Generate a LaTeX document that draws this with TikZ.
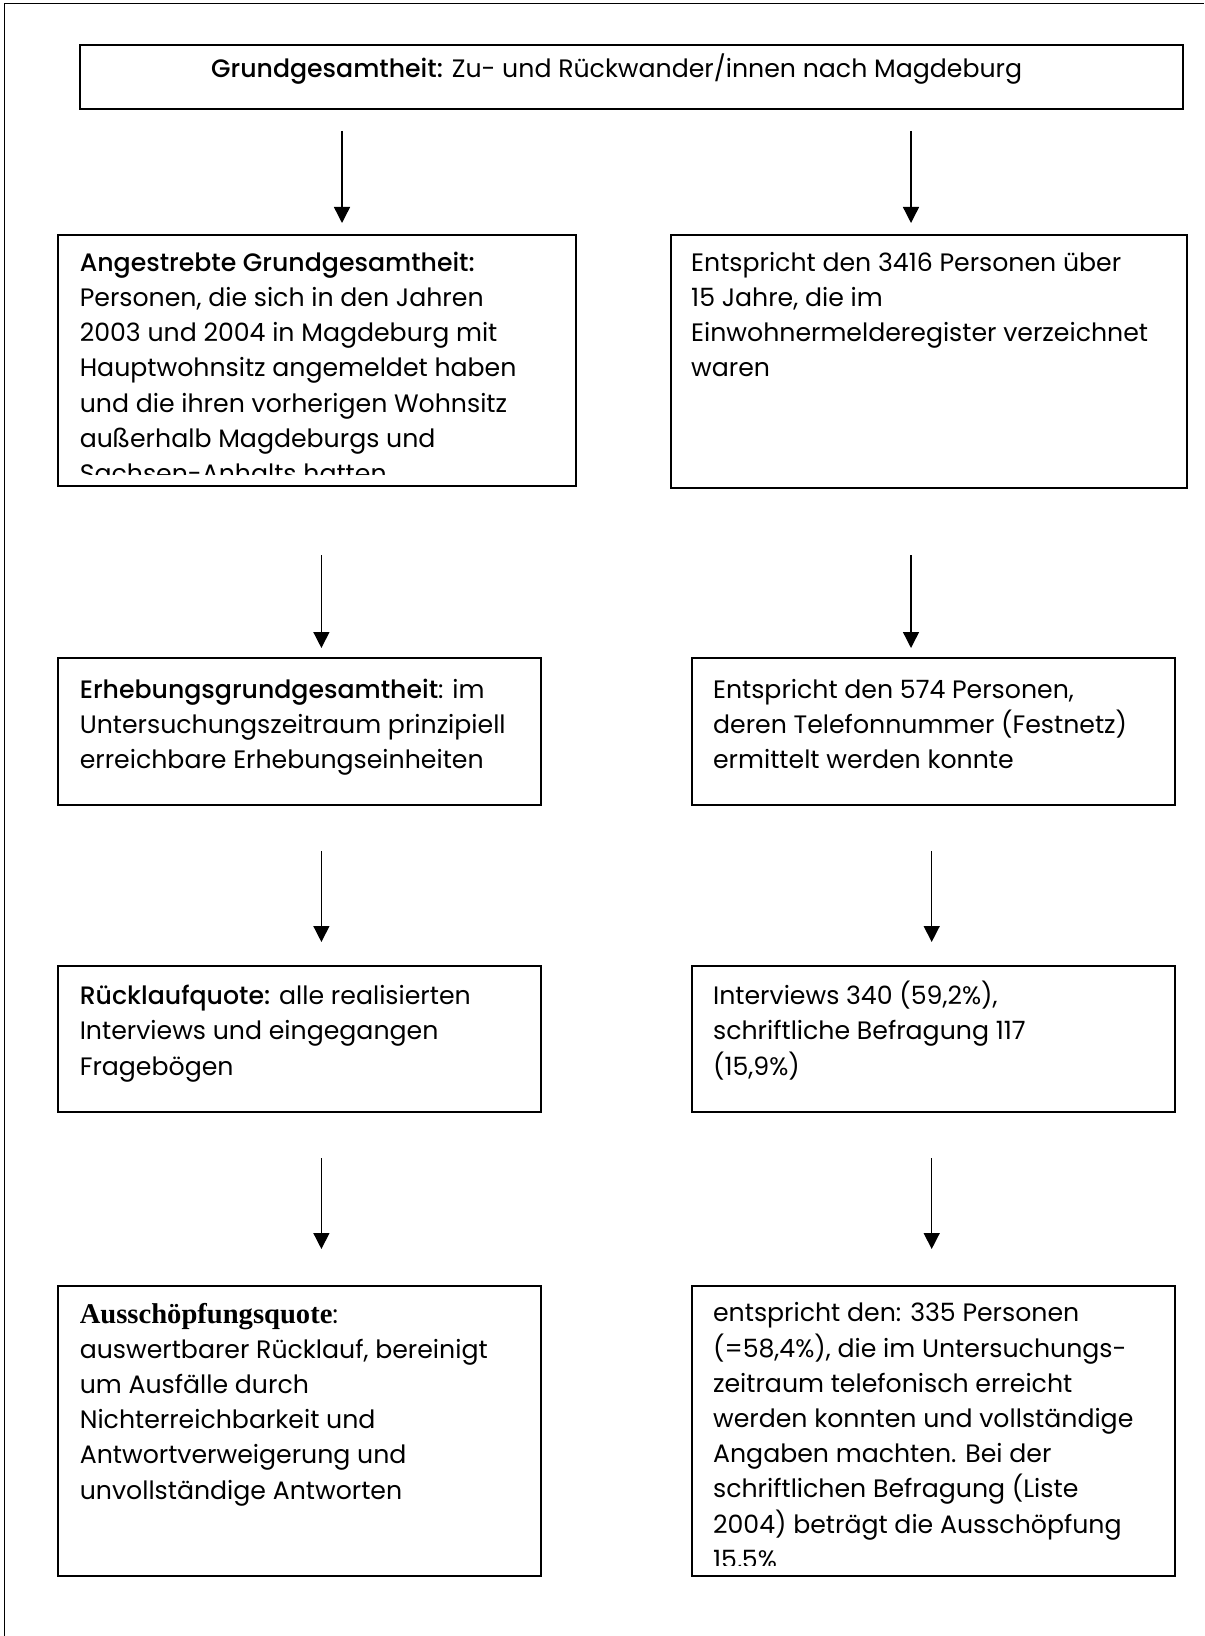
\documentclass[tikz,border=0pt]{standalone}
\usepackage{fontspec}
\setmainfont{Poppins}[BoldFont={Poppins Medium}]
\newfontfamily\timesfont{Liberation Serif}
\usetikzlibrary{arrows.meta}

\begin{document}
\begin{tikzpicture}[x=0.5pt, y=-0.5pt, >={Triangle[length=8pt,width=8pt]},
    box/.style={draw, line width=1pt, anchor=north west, inner sep=0pt},
    txt/.style={anchor=base west, inner sep=0pt, font=\fontsize{12.6}{17.6}\selectfont},
    flow/.style={->, line width=0.7pt}]
    \useasboundingbox (0,0) rectangle (1204,1636);
    \draw[line width=0.8pt] (4.5,1636) -- (4.5,3.5) -- (1204,3.5);

    % columns of the arrows
    \coordinate (colA) at (342,0);
    \coordinate (colB) at (911,0);
    \coordinate (colL) at (321.4,0);
    \coordinate (colR) at (931.7,0);

    \node[box, minimum width=551.35pt, minimum height=32.35pt] (gesamt) at (79.3,43.8) {};
    \node[txt, anchor=base] (gesamttext) at ([xshift=-7.5pt]gesamt.center) {\textbf{Grundgesamtheit:} Zu- und Rückwander/innen nach Magdeburg};

    \node[box, minimum width=258.75pt, minimum height=125.75pt] (angestrebt) at (57.4,233.7) {};
    \begin{scope}
        \clip (angestrebt.north west) rectangle ([yshift=6.5pt]angestrebt.south east);
        \node[txt] (angestrebttext) at ([shift={(22,37.6)}]angestrebt.north west) {\parbox[t]{260pt}{\textbf{Angestrebte Grundgesamtheit:}\\ Personen, die sich in den Jahren\\ 2003 und 2004 in Magdeburg mit\\ Hauptwohnsitz angemeldet haben\\ und die ihren vorherigen Wohnsitz\\ außerhalb Magdeburgs und\\ Sachsen-Anhalts hatten}};
    \end{scope}

    \node[box, minimum width=258.25pt, minimum height=126.75pt] (personen) at (669.8,233.7) {};
    \node[txt] (personentext) at ([shift={(21,37.6)}]personen.north west) {\parbox[t]{260pt}{Entspricht den 3416 Personen über\\ 15 Jahre, die im\\ Einwohnermelderegister verzeichnet\\ waren}};

    \node[box, minimum width=241.5pt, minimum height=73.5pt] (erhebung) at (57.4,657.3) {};
    \node[txt] (erhebungtext) at ([shift={(22,40.7)}]erhebung.north west) {\parbox[t]{240pt}{\textbf{Erhebungsgrundgesamtheit}: im\\ Untersuchungszeitraum prinzipiell\\ erreichbare Erhebungseinheiten}};

    \node[box, minimum width=241.5pt, minimum height=73.5pt] (telefon) at (690.7,657.3) {};
    \node[txt] (telefontext) at ([shift={(22,40.7)}]telefon.north west) {\parbox[t]{240pt}{Entspricht den 574 Personen,\\ deren Telefonnummer (Festnetz)\\ ermittelt werden konnte}};

    \node[box, minimum width=241.5pt, minimum height=73pt] (ruecklauf) at (57.4,965) {};
    \node[txt] (ruecklauftext) at ([shift={(22,39.7)}]ruecklauf.north west) {\parbox[t]{240pt}{\textbf{Rücklaufquote:} alle realisierten\\ Interviews und eingegangen\\ Fragebögen}};

    \node[box, minimum width=241.5pt, minimum height=73pt] (interviews) at (690.7,965) {};
    \node[txt] (interviewstext) at ([shift={(22,39.7)}]interviews.north west) {\parbox[t]{240pt}{Interviews 340 (59,2\%),\\ schriftliche Befragung 117\\ (15,9\%)}};

    \node[box, minimum width=241.5pt, minimum height=145pt] (ausschoepf) at (57.4,1285.4) {};
    \node[txt] (ausschoepftext) at ([shift={(22,37.6)}]ausschoepf.north west) {\parbox[t]{240pt}{{\timesfont\bfseries\fontsize{14.3}{17.6}\selectfont Ausschöpfungsquote}:\\ auswertbarer Rücklauf, bereinigt\\ um Ausfälle durch\\ Nichterreichbarkeit und\\ Antwortverweigerung und\\ unvollständige Antworten}};

    \node[box, minimum width=241.5pt, minimum height=145pt] (erreicht) at (690.7,1285.4) {};
    \begin{scope}
        \clip (erreicht.north west) rectangle ([yshift=6pt]erreicht.south east);
        \node[txt] (erreichttext) at ([shift={(22,36.5)}]erreicht.north west) {\parbox[t]{240pt}{entspricht den: 335 Personen\\ (=58,4\%), die im Untersuchungs-\\ zeitraum telefonisch erreicht\\ werden konnten und vollständige\\ Angaben machten. Bei der\\ schriftlichen Befragung (Liste\\ 2004) beträgt die Ausschöpfung\\ 15,5\%}};
    \end{scope}

    % arrows
    \draw[flow, shorten <=10.25pt, shorten >=5.35pt] (gesamt.south -| colA) -- (angestrebt.north -| colA);
    \draw[flow, shorten <=10.25pt, shorten >=5.35pt] (gesamt.south -| colB) -- (personen.north -| colB);
    \draw[flow, shorten <=33.9pt, shorten >=4.65pt] (angestrebt.south -| colL) -- (erhebung.north -| colL);
    \draw[flow, shorten <=32.9pt, shorten >=4.65pt] (personen.south -| colB) -- (telefon.north -| colB);
    \draw[flow, shorten <=22.3pt, shorten >=11.5pt] (erhebung.south -| colL) -- (ruecklauf.north -| colL);
    \draw[flow, shorten <=22.3pt, shorten >=11.5pt] (telefon.south -| colR) -- (interviews.north -| colR);
    \draw[flow, shorten <=22.5pt, shorten >=18.2pt] (ruecklauf.south -| colL) -- (ausschoepf.north -| colL);
    \draw[flow, shorten <=22.5pt, shorten >=18.2pt] (interviews.south -| colR) -- (erreicht.north -| colR);
\end{tikzpicture}
\end{document}
